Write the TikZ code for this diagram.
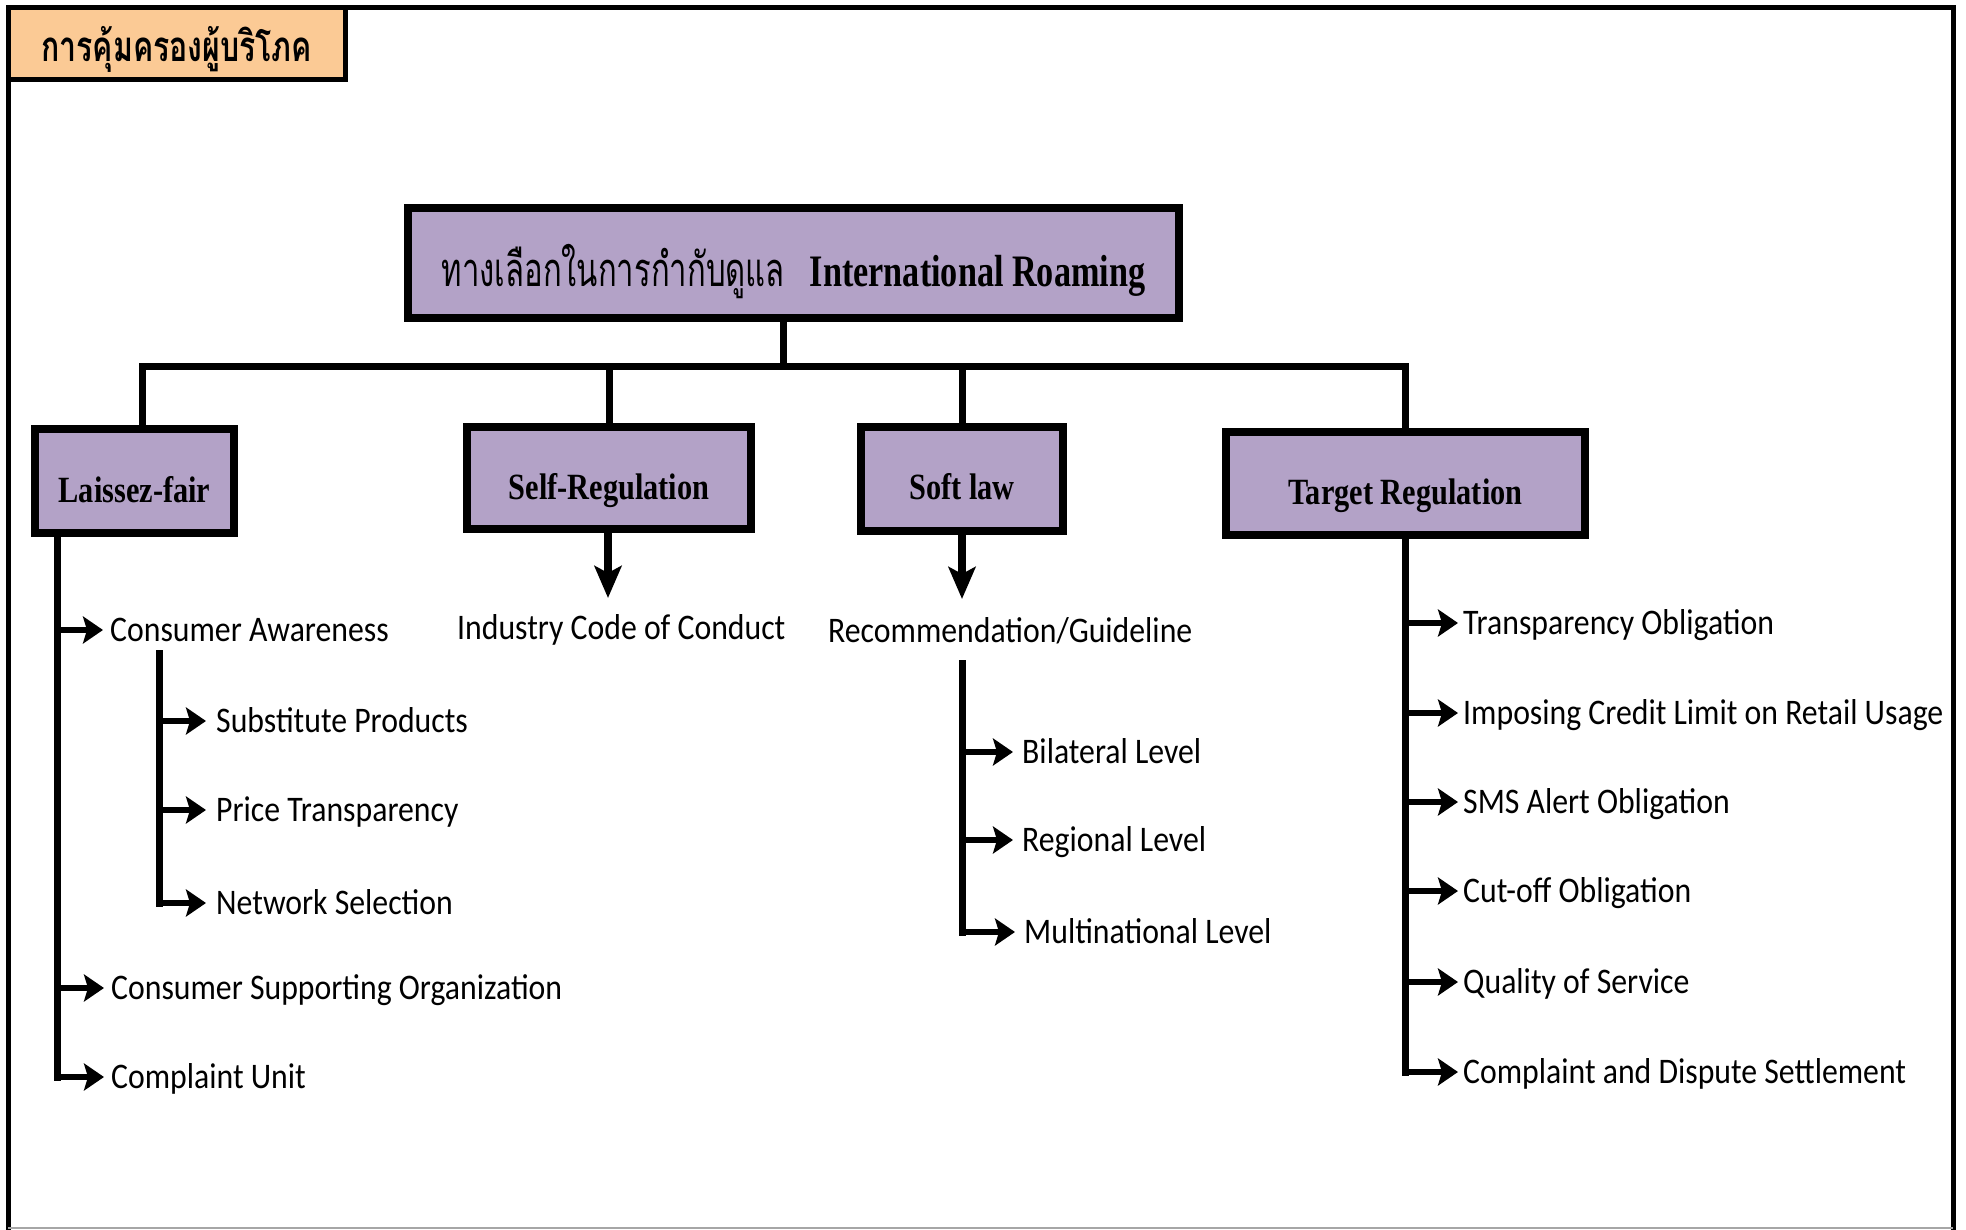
\documentclass[tikz,border=0pt]{standalone}
\usepackage{fontspec}
\usetikzlibrary{arrows.meta,calc}
\newfontfamily\bodyfont[FakeStretch=0.882]{Carlito}
\newfontfamily\serifbox[FakeStretch=0.82]{Liberation Serif}
\newfontfamily\serifmain[FakeStretch=0.76]{Liberation Serif}
\newfontfamily\thaifont[Script=Thai,FakeStretch=0.66]{Loma}
\newfontfamily\thaititle[Script=Thai,FakeStretch=0.72]{Loma}
\definecolor{boxpurple}{HTML}{B3A2C7}
\definecolor{titlepeach}{HTML}{FBCA95}
\tikzset{
  catbox/.style={draw=black, line width=8pt, fill=boxpurple, inner sep=0pt,
    text height=42pt, text depth=0pt,
    font=\serifbox\bfseries\fontsize{37}{40}\selectfont},
  leaf/.style={anchor=west, inner sep=0pt, text height=23pt, text depth=0pt,
    font=\bodyfont\fontsize{36}{40}\selectfont},
  conn/.style={line width=7pt, line cap=rect, line join=miter},
  harrow/.style={line width=5.5pt, -{Stealth[length=20pt, width=27pt, inset=4pt]}},
  varrow/.style={line width=8pt, -{Stealth[length=32pt, width=27pt, inset=7pt]}}
}
\begin{document}
\begin{tikzpicture}[x=1pt,y=-1pt]
\useasboundingbox (0,0) rectangle (1966,1230);
\fill[white] (0,0) rectangle (1966,1230);

% title
\node[draw=black, line width=5pt, fill=titlepeach, minimum width=337.5pt, minimum height=72pt, inner sep=0pt,
  font=\thaititle\bfseries\fontsize{42}{46}\selectfont] (title) at (176.75,43.5) {\raisebox{-18pt}[0pt][0pt]{การคุ้มครองผู้บริโภค}};

% frame
\draw[line width=5pt] (8,1230) -- (8,7.5) -- (1953,7.5) -- (1953,1230);
\draw[gray!70, line width=2pt] (8,1228) -- (1953,1228);

% main box
\node[catbox, minimum width=771pt, minimum height=110pt, text height=48pt] (main) at (793.5,263)
  {{\thaifont\mdseries\fontsize{47}{50}\selectfont ทางเลือกในการกำกับดูแล}\hspace{25pt}{\serifmain\bfseries\fontsize{45}{50}\selectfont International Roaming}};

% category boxes
\node[catbox, minimum width=199pt, minimum height=104pt] (lf) at (134.5,481) {Laissez-fair};
\node[catbox, minimum width=284pt, minimum height=102pt] (sr) at (609,478) {Self-Regulation};
\node[catbox, minimum width=202pt, minimum height=104pt] (sl) at (962,479) {Soft law};
\node[catbox, minimum width=359pt, minimum height=103pt] (tr) at (1405.5,483.5) {Target Regulation};

% tree
\coordinate (stem) at (783,322);
\coordinate (barL) at (142,367);
\coordinate (barR) at (1405.5,367);
\draw[conn] (stem) -- (stem |- barL);
\draw[conn] (barL |- lf.north) -- (barL) -- (barR) -- (tr.north);
\draw[conn] (sr.north |- barL) -- (sr.north);
\draw[conn] (sl.north |- barL) -- (sl.north);

% leaves
\node[leaf] (ca) at (110,630) {Consumer Awareness};
\node[leaf] (sp) at (216,721) {Substitute Products};
\node[leaf] (pt) at (216,810) {Price Transparency};
\node[leaf] (ns) at (216,903) {Network Selection};
\node[leaf] (cso) at (111,988) {Consumer Supporting Organization};
\node[leaf] (cu) at (111,1077) {Complaint Unit};

\node[leaf] (icc) at (457,628) {Industry Code of Conduct};
\node[leaf] (rg) at (828,631) {Recommendation/Guideline};
\node[leaf] (bl) at (1022,752) {Bilateral Level};
\node[leaf] (rl) at (1022,840) {Regional Level};
\node[leaf] (ml) at (1024,932) {Multinational Level};

\node[leaf] (to) at (1463,623) {Transparency Obligation};
\node[leaf] (ic) at (1463,713) {Imposing Credit Limit on Retail Usage};
\node[leaf] (sms) at (1463,802) {SMS Alert Obligation};
\node[leaf] (co) at (1463,891) {Cut-off Obligation};
\node[leaf] (qs) at (1463,982) {Quality of Service};
\node[leaf] (cds) at (1463,1072) {Complaint and Dispute Settlement};

% Laissez-fair branch
\coordinate (lt) at (57,537);
\draw[conn] (lt) -- (lt |- cu.west);
\foreach \n in {ca,cso,cu} \draw[harrow] (lt |- \n.west) -- ([xshift=-7pt]\n.west);
\coordinate (cat) at (159,653);
\draw[conn] (cat) -- (cat |- ns.west);
\foreach \n in {sp,pt,ns} \draw[harrow] (cat |- \n.west) -- ([xshift=-10pt]\n.west);

% Self-regulation / Soft law
\coordinate (srtip) at (608,598);
\coordinate (sltip) at (962,599);
\draw[varrow] (sr.south -| srtip) -- (srtip);
\draw[varrow] (sl.south) -- (sltip);
\coordinate (slt) at (962,663);
\draw[conn] (slt) -- (slt |- ml.west);
\foreach \n in {bl,rl,ml} \draw[harrow] (slt |- \n.west) -- ([xshift=-9pt]\n.west);

% Target regulation
\draw[conn] (tr.south) -- (tr.south |- cds.west);
\foreach \n in {to,ic,sms,co,qs,cds} \draw[harrow] (tr.south |- \n.west) -- ([xshift=-5pt]\n.west);
\end{tikzpicture}
\end{document}
